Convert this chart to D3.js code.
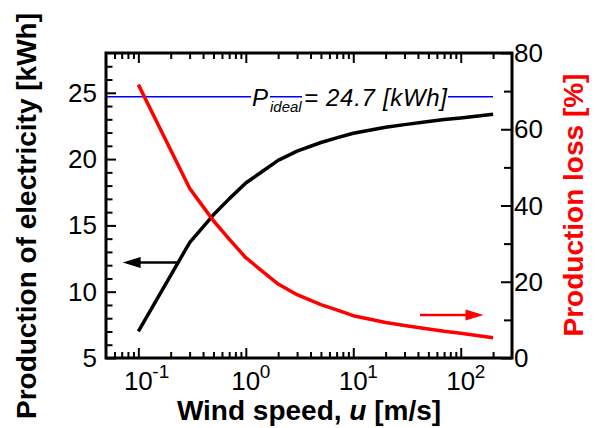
<!DOCTYPE html>
<html>
<head>
<meta charset="utf-8">
<script src="https://cdn.jsdelivr.net/npm/d3@7/dist/d3.min.js"></script>
<style>
  html, body { margin: 0; padding: 0; background: #fff; }
  svg { display: block; font-family: "Liberation Sans", Arial, Helvetica, sans-serif; }
</style>
</head>
<body>
<svg id="chart" width="595" height="428"></svg>
<script>
// Wind speed samples [m/s]
const windSpeed = [0.1, 0.3, 0.5, 0.7, 1, 2, 3, 5, 7, 10, 20, 30, 50, 70, 100, 200];
// Production of electricity [kWh]
const production = [7.0, 13.7, 15.8, 17.0, 18.2, 19.9, 20.6, 21.25, 21.6, 21.95, 22.4, 22.6, 22.83, 22.98, 23.1, 23.38];
// Production loss [%]
const productionLoss = [71.7, 44.5, 36.0, 31.2, 26.3, 19.4, 16.6, 14.0, 12.6, 11.1, 9.3, 8.5, 7.6, 7.0, 6.5, 5.3];
// Ideal production [kWh]
const idealProduction = 24.7;

// Axis ticks
const xMajorTicks = [0.1, 1, 10, 100];
const xTickExponents = ["-1", "0", "1", "2"];
const xMinorTicks = [];
[0.01, 0.1, 1, 10, 100].forEach(d => { for (let k = 2; k <= 9; k++) { const v = +(d * k).toPrecision(3); if (v > 0.05 && v < 300 && !xMajorTicks.includes(v)) xMinorTicks.push(v); } });
const leftMajorTicks = [5, 10, 15, 20, 25];
const leftMinorTicks = d3.range(6, 28).filter(v => v % 5 !== 0);
const rightMajorTicks = [0, 20, 40, 60, 80];
const rightMinorTicks = [10, 30, 50, 70];

const svg = d3.select("#chart");
const L = 106, R = 512, T = 53, B = 358;

const x = d3.scaleLog().domain([0.05, 300]).range([L, R]);
const yL = d3.scaleLinear().domain([5, 28]).range([B, T]);
const yR = d3.scaleLinear().domain([0, 80]).range([B, T]);

// Ticks (all pointing inward)
function tickAxis(axis, transform, size, vals) {
  const g = svg.append("g").attr("transform", transform)
    .call(axis.tickValues(vals).tickSize(-size).tickFormat(""));
  g.select(".domain").remove();
  g.selectAll(".tick line").attr("stroke", "#000").attr("stroke-width", 2);
  return g;
}
tickAxis(d3.axisBottom(x), `translate(0,${B})`, 10, xMajorTicks);
tickAxis(d3.axisBottom(x), `translate(0,${B})`, 6, xMinorTicks);
tickAxis(d3.axisTop(x), `translate(0,${T})`, 10, xMajorTicks);
tickAxis(d3.axisTop(x), `translate(0,${T})`, 6, xMinorTicks);
tickAxis(d3.axisLeft(yL), `translate(${L},0)`, 10, leftMajorTicks);
tickAxis(d3.axisLeft(yL), `translate(${L},0)`, 6.5, leftMinorTicks);
tickAxis(d3.axisRight(yR), `translate(${R},0)`, 11, rightMajorTicks);
tickAxis(d3.axisRight(yR), `translate(${R},0)`, 8, rightMinorTicks);

// Tick labels
svg.append("g").selectAll("text").data(leftMajorTicks).join("text")
  .attr("x", L - 9).attr("y", d => yL(d)).attr("dy", "0.35em")
  .attr("text-anchor", "end").attr("font-size", 26).text(d => d);
svg.append("g").selectAll("text").data(rightMajorTicks).join("text")
  .attr("x", R + 2).attr("y", d => yR(d)).attr("dy", "0.35em")
  .attr("text-anchor", "start").attr("font-size", 26).text(d => d);
const xl = svg.append("g");
xMajorTicks.forEach((v, i) => {
  xl.append("text").attr("x", x(v)).attr("y", 390).attr("text-anchor", "middle")
    .attr("font-size", 26).text("10");
  xl.append("text").attr("x", x(v) + 14).attr("y", 378).attr("text-anchor", "start")
    .attr("font-size", 19).text(xTickExponents[i]);
});

// Ideal production line
svg.append("line")
  .attr("x1", x(0.05)).attr("x2", x(200))
  .attr("y1", yL(idealProduction)).attr("y2", yL(idealProduction))
  .attr("stroke", "#0000ff").attr("stroke-width", 1.6);

// Annotation with white backing behind the main glyphs
const ay = 106;
svg.append("rect").attr("x", 251).attr("y", ay - 19).attr("width", 19).attr("height", 21).attr("fill", "#fff");
svg.append("rect").attr("x", 302).attr("y", ay - 19).attr("width", 146).attr("height", 21).attr("fill", "#fff");
svg.append("text").attr("x", 252).attr("y", ay).attr("font-size", 24).attr("font-style", "italic").text("P");
svg.append("text").attr("x", 270).attr("y", ay + 6).attr("font-size", 15).attr("font-style", "italic").text("ideal");
svg.append("text").attr("x", 304).attr("y", ay).attr("font-size", 24).attr("font-style", "italic")
  .attr("textLength", 143).attr("lengthAdjust", "spacing")
  .text(`= ${idealProduction} [kWh]`);

// Data lines
const lineP = d3.line().x((d, i) => x(windSpeed[i])).y(d => yL(d));
const lineLoss = d3.line().x((d, i) => x(windSpeed[i])).y(d => yR(d));
svg.append("path").datum(production).attr("d", lineP)
  .attr("fill", "none").attr("stroke", "#000").attr("stroke-width", 3.5).attr("stroke-linejoin", "round");
svg.append("path").datum(productionLoss).attr("d", lineLoss)
  .attr("fill", "none").attr("stroke", "#ff0000").attr("stroke-width", 3.5).attr("stroke-linejoin", "round");

// Arrows pointing to each curve's axis
function arrow(x1, x2, y, color) {
  const dir = Math.sign(x2 - x1);
  const head = 18, half = 5.5;
  svg.append("line").attr("x1", x1).attr("x2", x2 - dir * head + dir * 2).attr("y1", y).attr("y2", y)
    .attr("stroke", color).attr("stroke-width", 2.5);
  svg.append("path")
    .attr("d", `M${x2},${y} L${x2 - dir * head},${y - half} L${x2 - dir * head},${y + half} Z`)
    .attr("fill", color);
}
arrow(x(0.23), x(0.0714), yL(12.2), "#000");
arrow(x(41.7), x(163), yR(11.3), "#ff0000");

// Frame
svg.append("rect").attr("x", L).attr("y", T).attr("width", R - L).attr("height", B - T)
  .attr("fill", "none").attr("stroke", "#000").attr("stroke-width", 3);

// Axis titles
const xt = svg.append("text").attr("x", (L + R) / 2).attr("y", 420).attr("text-anchor", "middle")
  .attr("font-size", 28).attr("font-weight", "bold");
xt.append("tspan").text("Wind speed, ");
xt.append("tspan").attr("font-style", "italic").text("u");
xt.append("tspan").text(" [m/s]");

svg.append("text").attr("transform", `translate(36,216) rotate(-90)`)
  .attr("text-anchor", "middle").attr("font-size", 28).attr("font-weight", "bold")
  .text("Production of electricity [kWh]");
svg.append("text").attr("transform", `translate(583,205) rotate(-90)`)
  .attr("text-anchor", "middle").attr("font-size", 28).attr("font-weight", "bold")
  .attr("fill", "#ff0000").text("Production loss [%]");
</script>
</body>
</html>
